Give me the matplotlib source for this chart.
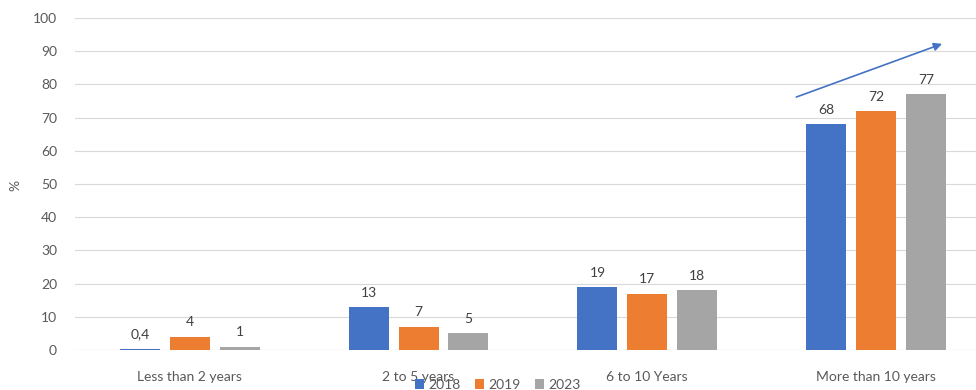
import matplotlib.pyplot as plt
import numpy as np

# Durée d'ancienneté (catégories) et pourcentages par année
categories = ["Less than 2 years", "2 to 5 years", "6 to 10 Years", "More than 10 years"]
years = ["2018", "2019", "2023"]
v2018 = [0.4, 13, 19, 68]
v2019 = [4, 7, 17, 72]
v2023 = [1, 5, 18, 77]
value_labels = [["0,4", "13", "19", "68"],
                ["4", "7", "17", "72"],
                ["1", "5", "18", "77"]]

colors = ["#4472C4", "#ED7D31", "#A5A5A5"]
plt.rcParams['font.family'] = ['Lato', 'DejaVu Sans']

fig = plt.figure(figsize=(9.76, 3.9), dpi=100)
ax = fig.add_axes([75 / 976, 40 / 390, 1 - 75 / 976, 332 / 390])

x = np.arange(len(categories))
width = 0.175
step = 0.218

for i, (vals, labels) in enumerate(zip([v2018, v2019, v2023], value_labels)):
    pos = x + (i - 1) * step
    bars = ax.bar(pos, vals, width, color=colors[i], label=years[i], zorder=3)
    for b, lab in zip(bars, labels):
        ax.text(b.get_x() + b.get_width() / 2, b.get_height() + 2.5, lab,
                ha='center', va='bottom', fontsize=10, color='#404040')

# Flèche de tendance au-dessus du dernier groupe
ax.annotate("", xy=(3.30, 92.5), xytext=(2.64, 75.9),
            arrowprops=dict(arrowstyle='-|>', color='#4472C4', lw=1.2,
                            mutation_scale=12))

ax.set_ylim(0, 100)
ax.set_xlim(-0.502, 3.437)
ax.set_yticks(range(0, 101, 10))
ax.set_xticks(x)
ax.set_xticklabels(categories)
ax.tick_params(axis='both', length=0, labelsize=10, colors='#595959')
ax.tick_params(axis='x', pad=15)
ax.tick_params(axis='y', pad=13)
ax.grid(axis='y', color='#D9D9D9', lw=0.8, zorder=0)
for s in ax.spines.values():
    s.set_visible(False)
ax.axhline(0, color='#D9D9D9', lw=0.8, zorder=1)

fig.text(15 / 976, 1 - 185 / 390, "%", rotation=90, ha='center', va='center',
         fontsize=10, color='#595959')

fig.legend(loc='center', bbox_to_anchor=(0.51, 0.014), ncol=3, frameon=False,
           fontsize=10, labelcolor='#595959', handlelength=0.7, handleheight=0.7,
           handletextpad=0.3, columnspacing=1.0, borderpad=0)

plt.savefig("out.png", dpi=100)
